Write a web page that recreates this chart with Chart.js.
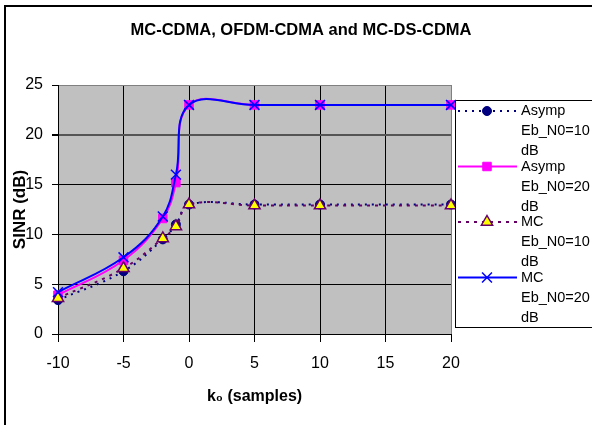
<!DOCTYPE html>
<html>
<head>
<meta charset="utf-8">
<script src="https://cdn.jsdelivr.net/npm/chart.js@4.4.0/dist/chart.umd.min.js"></script>
<style>
  html, body { margin: 0; padding: 0; background: #fff; }
  #wrap { width: 592px; height: 425px; }
</style>
</head>
<body>
<div id="wrap"><canvas id="sinr_chart"></canvas></div>
<script>
// k0 offsets (samples) and SINR values (dB)
var kValues = [-10, -5, -2, -1, 0, 5, 10, 20];
var asymp10 = [3.4, 6.3, 9.5, 11.0, 13.0, 13.0, 13.0, 13.0];
var asymp20 = [3.9, 7.4, 11.6, 15.2, 23.0, 23.0, 23.0, 23.0];
var mc10 = [3.6, 6.6, 9.6, 10.8, 13.0, 12.9, 12.9, 12.9];
var mc20 = [4.2, 7.7, 11.8, 16.0, 23.0, 23.0, 23.0, 23.0];

var xTicks = [-10, -5, 0, 5, 10, 15, 20];
var yTicks = [0, 5, 10, 15, 20, 25];

var legendLines = [
  ["Asymp", "Eb_N0=10", "dB"],
  ["Asymp", "Eb_N0=20", "dB"],
  ["MC", "Eb_N0=10", "dB"],
  ["MC", "Eb_N0=20", "dB"]
];

function toPoints(ys) {
  return kValues.map(function (k, i) { return { x: k, y: ys[i] }; });
}

var FONT = "'Liberation Sans', Arial, sans-serif";

// legend markers, same size as the ones Chart.js draws on the plot
function drawMarker(ctx, ds, x, y) {
  var r = ds.pointRadius;
  ctx.save();
  ctx.setLineDash([]);
  ctx.fillStyle = ds.pointBackgroundColor;
  ctx.strokeStyle = ds.pointBorderColor;
  ctx.lineWidth = ds.pointBorderWidth;
  ctx.beginPath();
  if (ds.pointStyle === "circle") {
    ctx.arc(x, y, r, 0, Math.PI * 2);
    ctx.fill(); ctx.stroke();
  } else if (ds.pointStyle === "rect") {
    var h = r * Math.SQRT1_2;
    ctx.rect(x - h, y - h, h * 2, h * 2);
    ctx.fill(); ctx.stroke();
  } else if (ds.pointStyle === "triangle") {
    ctx.moveTo(x, y - r);
    ctx.lineTo(x + r * 0.866, y + r * 0.5);
    ctx.lineTo(x - r * 0.866, y + r * 0.5);
    ctx.closePath();
    ctx.fill(); ctx.stroke();
  } else {
    var d = r * Math.SQRT1_2;
    ctx.moveTo(x - d, y - d); ctx.lineTo(x + d, y + d);
    ctx.moveTo(x + d, y - d); ctx.lineTo(x - d, y + d);
    ctx.stroke();
  }
  ctx.restore();
}

var framePlugin = {
  id: "frame",
  beforeDraw: function (chart) {
    var ctx = chart.ctx, a = chart.chartArea;
    ctx.save();
    ctx.fillStyle = "#fff";
    ctx.fillRect(0, 0, chart.width, chart.height);
    ctx.strokeStyle = "#000";
    ctx.lineWidth = 2;
    ctx.strokeRect(5, 6, chart.width + 20, chart.height + 20);
    ctx.fillStyle = "#c0c0c0";
    ctx.fillRect(a.left, a.top, a.right - a.left, a.bottom - a.top);
    ctx.restore();
  },
  afterDraw: function (chart) {
    var ctx = chart.ctx;
    ctx.save();
    // title
    ctx.fillStyle = "#000";
    ctx.font = "bold 16.5px " + FONT;
    ctx.textAlign = "center";
    ctx.textBaseline = "middle";
    ctx.fillText("MC-CDMA, OFDM-CDMA and MC-DS-CDMA", 301, 30);

    // legend box
    ctx.fillStyle = "#fff";
    ctx.fillRect(455, 100, 160, 227);
    ctx.strokeStyle = "#000";
    ctx.lineWidth = 1;
    ctx.strokeRect(455.5, 100.5, 160, 227);

    ctx.font = "14.5px " + FONT;
    ctx.textAlign = "left";
    chart.data.datasets.forEach(function (ds, i) {
      var y0 = 111 + 55.5 * i;
      ctx.save();
      ctx.strokeStyle = ds.borderColor;
      ctx.lineWidth = ds.borderWidth;
      ctx.setLineDash(ds.borderDash || []);
      ctx.beginPath();
      ctx.moveTo(458, y0);
      ctx.lineTo(517, y0);
      ctx.stroke();
      ctx.restore();
      drawMarker(ctx, ds, 487, y0);
      ctx.fillStyle = "#000";
      legendLines[i].forEach(function (t, j) {
        ctx.fillText(t, 521, y0 + 20 * j);
      });
    });
    ctx.restore();
  }
};

var ctx = document.getElementById("sinr_chart");

var sinrChart = new Chart(ctx, {
  type: "line",
  data: {
    datasets: [
      {
        label: "Asymp Eb_N0=10 dB",
        data: toPoints(asymp10),
        borderColor: "#000080",
        borderWidth: 2,
        borderDash: [2, 5],
        pointStyle: "circle",
        pointRadius: 4.5,
        pointBackgroundColor: "#000080",
        pointBorderColor: "#000080",
        pointBorderWidth: 1,
        order: 4
      },
      {
        label: "Asymp Eb_N0=20 dB",
        data: toPoints(asymp20),
        borderColor: "#ff00ff",
        borderWidth: 2,
        pointStyle: "rect",
        pointRadius: 6,
        pointBackgroundColor: "#ff00ff",
        pointBorderColor: "#ff00ff",
        pointBorderWidth: 1,
        order: 3
      },
      {
        label: "MC Eb_N0=10 dB",
        data: toPoints(mc10),
        borderColor: "#660066",
        borderWidth: 2,
        borderDash: [3, 5],
        pointStyle: "triangle",
        pointRadius: 6.5,
        pointBackgroundColor: "#ffff00",
        pointBorderColor: "#660066",
        pointBorderWidth: 1.5,
        order: 2
      },
      {
        label: "MC Eb_N0=20 dB",
        data: toPoints(mc20),
        borderColor: "#0000ff",
        borderWidth: 2,
        pointStyle: "crossRot",
        pointRadius: 7,
        pointBackgroundColor: "#0000ff",
        pointBorderColor: "#0000ff",
        pointBorderWidth: 1.5,
        order: 1
      }
    ]
  },
  options: {
    responsive: true,
    maintainAspectRatio: false,
    animation: false,
    clip: false,
    elements: { line: { tension: 0.4, fill: false } },
    layout: { padding: { left: 4, top: 85, right: 141, bottom: 0 } },
    plugins: {
      legend: { display: false },
      title: { display: false },
      tooltip: { enabled: false }
    },
    scales: {
      x: {
        type: "linear",
        min: -10,
        max: 20,
        afterFit: function (s) { s.height = 91; },
        afterBuildTicks: function (s) { s.ticks = xTicks.map(function (v) { return { value: v }; }); },
        grid: {
          color: function (c) { return c.tick && c.tick.value === 20 ? "#808080" : "#000"; },
          lineWidth: 1,
          tickLength: 8,
          tickColor: "#000"
        },
        border: { color: "#000", width: 1 },
        ticks: { color: "#000", padding: 12, font: { family: FONT, size: 16 }, maxRotation: 0 },
        title: {
          display: true,
          text: "k₀ (samples)",
          color: "#000",
          font: { family: FONT, size: 16, weight: "bold" },
          padding: { top: 0, bottom: 19 }
        }
      },
      y: {
        min: 0,
        max: 25,
        afterFit: function (s) { s.width = 54; },
        afterBuildTicks: function (s) { s.ticks = yTicks.map(function (v) { return { value: v }; }); },
        grid: {
          color: function (c) {
            if (!c.tick) return "#000";
            if (c.tick.value === 25) return "#808080";
            if (c.tick.value === 20) return "#555";
            return "#000";
          },
          lineWidth: function (c) { return c.tick && c.tick.value === 20 ? 2 : 1; },
          tickLength: 6,
          tickColor: "#000"
        },
        border: { color: "#000", width: 1 },
        ticks: { color: "#000", padding: 9, font: { family: FONT, size: 16 } },
        title: {
          display: true,
          text: "SINR (dB)",
          color: "#000",
          font: { family: FONT, size: 17, weight: "bold" },
          padding: { top: 6, bottom: 0 }
        }
      }
    }
  },
  plugins: [framePlugin]
});
</script>
</body>
</html>
